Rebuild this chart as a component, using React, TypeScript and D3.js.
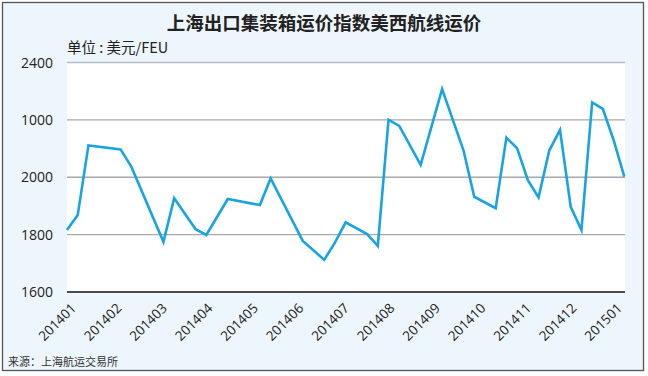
import React from "react";
import * as d3 from "d3";

const title = "上海出口集装箱运价指数美西航线运价";
const unitLabel = "单位 : 美元/FEU";
const sourceLabel = "来源：上海航运交易所";

// week index (0 = first week of 2014) and index value
const weeks = [0, 1, 2, 5, 6, 9, 10, 12, 13, 15, 18, 19, 22, 24, 25, 26, 28, 29, 30, 31, 33, 35, 37, 38, 40, 41, 42, 43, 44, 45, 46, 47, 48, 49, 50, 51, 52];
const values = [1816, 1868, 2111, 2097, 2037, 1775, 1927, 1819, 1799, 1924, 1903, 1996, 1778, 1712, 1772, 1843, 1802, 1761, 2200, 2179, 2043, 2307, 2093, 1932, 1892, 2138, 2101, 1990, 1930, 2093, 2165, 1897, 1816, 2261, 2238, 2130, 2002];

const monthLabels = ["201401", "201402", "201403", "201404", "201405", "201406", "201407", "201408", "201409", "201410", "201411", "201412", "201501"];
const yTickValues = [1600, 1800, 2000, 2200, 2400];
const yTickLabels = ["1600", "1800", "2000", "1000", "2400"];

export default function App() {
  const W = 648, H = 376;
  const left = 67, right = 625, top = 62.5, bottom = 292;
  const x = d3.scaleLinear().domain([0, 52]).range([left, right - 0.7]);
  const y = d3.scaleLinear().domain([1600, 2400]).range([bottom, top]);
  const xl = d3.scalePoint<string>().domain(monthLabels).range([77, 623]);
  const pts = weeks.map((w, i) => [w, values[i]] as [number, number]);
  const line = d3.line<[number, number]>().x(d => x(d[0])).y(d => y(d[1]));
  const font = "'Open Sans', 'Noto Sans', sans-serif";
  const cjk = "'Noto Sans CJK SC', sans-serif";
  return (
    <svg width={W} height={H} style={{ position: "absolute", left: 0, top: 0 }}>
      <rect x={0} y={0} width={W} height={H} fill="#ffffff" />
      <rect x={2.5} y={2.5} width={641} height={368} fill="#eef6fd" stroke="#555" strokeWidth={1.3} />
      <rect x={left} y={top} width={right - left} height={bottom - top} fill="#ffffff" />
      <text x={324} y={30} textAnchor="middle" fontFamily={cjk} fontWeight="bold" fontSize={18.5} fill="#222">{title}</text>
      <text x={67} y={53} fontFamily={cjk} fontSize={14.5} fill="#222">{unitLabel}</text>
      {yTickValues.map((v, i) => (
        <g key={v}>
          {i > 0 && (
            <line x1={left} x2={right} y1={y(v)} y2={y(v)} stroke={i === yTickValues.length - 1 ? "#b9bdc6" : "#a8a8a8"} strokeWidth={1.4} />
          )}
          <text x={53} y={y(v) + 5} textAnchor="end" fontFamily={font} fontSize={14} fill="#222">{yTickLabels[i]}</text>
        </g>
      ))}
      <path d={line(pts) || ""} fill="none" stroke="#1aa3e0" strokeWidth={2.6} strokeLinejoin="miter" />
      <line x1={left} x2={right} y1={bottom} y2={bottom} stroke="#111" strokeWidth={1.5} />
      {monthLabels.map(m => (
        <text key={m} transform={`translate(${xl(m)},${309}) rotate(-45)`} textAnchor="end" fontFamily={font} fontSize={13.5} fill="#222">{m}</text>
      ))}
      <text x={8} y={366} fontFamily={cjk} fontSize={11} fill="#333">{sourceLabel}</text>
    </svg>
  );
}
